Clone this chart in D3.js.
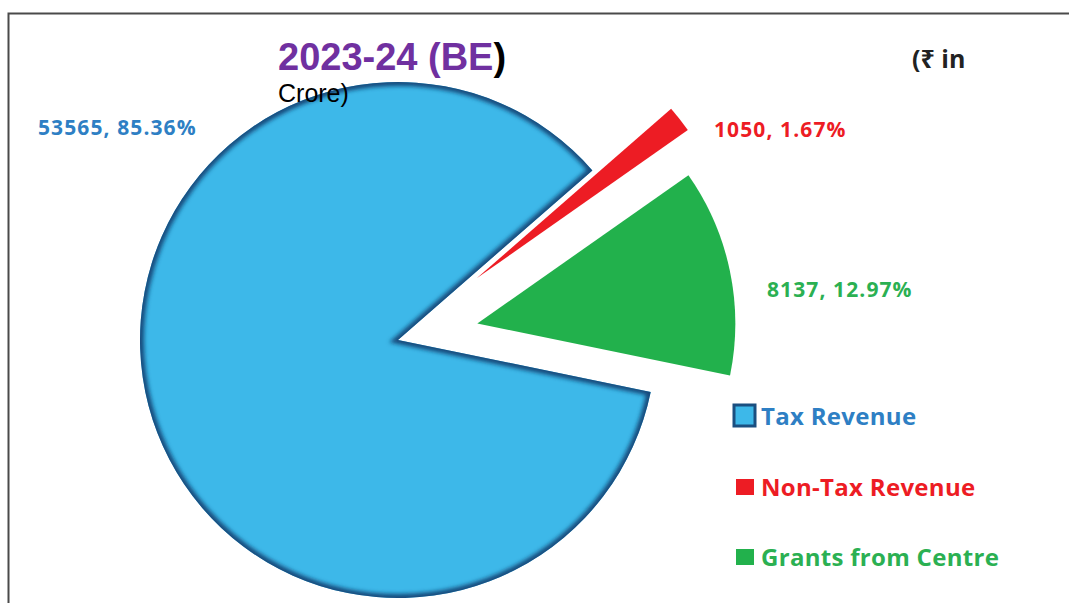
<!DOCTYPE html>
<html>
<head>
<meta charset="utf-8">
<script src="https://cdn.jsdelivr.net/npm/d3@7/dist/d3.min.js"></script>
<style>
  body { margin: 0; background: #fff; }
  text { font-family: "Open Sans", "Noto Sans", sans-serif; }
</style>
</head>
<body>
<div id="chart"></div>
<script>
// Data
var categories = ["Tax Revenue", "Non-Tax Revenue", "Grants from Centre"];
var values = [53565, 1050, 8137];
var percents = ["85.36%", "1.67%", "12.97%"];
var colors = ["#3db8e9", "#ed1c24", "#22b14c"];
var labelColors = ["#2e7fc4", "#ed1c24", "#2bb052"];

var width = 1069, height = 603;
var cx = 398, cy = 340, radius = 258;
var explode = [0, 100, 81];

var svg = d3.select("#chart").append("svg")
    .attr("width", width)
    .attr("height", height);

// frame
svg.append("path")
    .attr("d", "M8.5,603 L8.5,13.5 L1069,13.5")
    .attr("fill", "none")
    .attr("stroke", "#4a4a4a")
    .attr("stroke-width", 2);

var defs = svg.append("defs");
defs.append("filter").attr("id", "bevel")
    .attr("x", "-10%").attr("y", "-10%").attr("width", "120%").attr("height", "120%")
  .append("feGaussianBlur").attr("stdDeviation", 2.2);

var pie = d3.pie().sort(null)
    .startAngle(101.6 * Math.PI / 180)
    .endAngle((101.6 + 360) * Math.PI / 180);
var arc = d3.arc().innerRadius(0).outerRadius(radius);
var arcs = pie(values);

var g = svg.append("g").attr("transform", "translate(" + cx + "," + cy + ")");

var slices = g.selectAll("g.slice")
    .data(arcs)
    .enter()
    .append("g")
    .attr("class", "slice")
    .attr("transform", function(d, i) {
        var mid = (d.startAngle + d.endAngle) / 2;
        return "translate(" + (Math.sin(mid) * explode[i]) + "," + (-Math.cos(mid) * explode[i]) + ")";
    });

slices.append("path")
    .attr("d", arc)
    .attr("fill", function(d, i) { return colors[i]; });

// bevel shading on the big slice
defs.append("clipPath").attr("id", "taxClip")
  .append("path").attr("d", arc(arcs[0]));
slices.filter(function(d, i) { return i === 0; })
  .append("path")
    .attr("d", arc)
    .attr("fill", "none")
    .attr("stroke", "#14497a")
    .attr("stroke-width", 8)
    .attr("stroke-linejoin", "miter")
    .attr("clip-path", "url(#taxClip)")
    .attr("filter", "url(#bevel)");

// Data labels
var labelPos = [[38, 135], [714, 137], [767, 297]];
svg.selectAll("text.dlabel")
    .data(arcs)
    .enter()
    .append("text")
    .attr("class", "dlabel")
    .attr("x", function(d, i) { return labelPos[i][0]; })
    .attr("y", function(d, i) { return labelPos[i][1]; })
    .attr("fill", function(d, i) { return labelColors[i]; })
    .style("font-size", "21px")
    .style("font-weight", "bold")
    .style("letter-spacing", "1.1px")
    .text(function(d, i) { return values[i] + ", " + percents[i]; });

// Title
svg.append("text")
    .attr("x", 278).attr("y", 70)
    .style("font-family", "'Liberation Sans', Arial, sans-serif")
    .style("font-size", "38px")
    .style("font-weight", "bold")
    .attr("fill", "#7030a0")
    .text("2023-24 (BE")
  .append("tspan")
    .attr("fill", "#000")
    .text(")");

svg.append("text")
    .attr("x", 278).attr("y", 102)
    .style("font-family", "'Liberation Sans', Arial, sans-serif")
    .style("font-size", "25px")
    .attr("fill", "#000")
    .text("Crore)");

svg.append("text")
    .attr("x", 912).attr("y", 68)
    .style("font-size", "25px")
    .style("font-weight", "bold")
    .attr("fill", "#222")
    .text("(₹ in");

// Legend
var legendY = [416, 487, 557];
var legend = svg.selectAll("g.legend")
    .data(categories)
    .enter()
    .append("g")
    .attr("class", "legend")
    .attr("transform", function(d, i) { return "translate(735," + legendY[i] + ")"; });

legend.append("rect")
    .attr("x", function(d, i) { return i === 0 ? -1 : 1; })
    .attr("y", function(d, i) { return i === 0 ? -11 : -8; })
    .attr("width", function(d, i) { return i === 0 ? 21 : 18; })
    .attr("height", function(d, i) { return i === 0 ? 21 : 16; })
    .attr("fill", function(d, i) { return colors[i]; })
    .attr("stroke", function(d, i) { return i === 0 ? "#1a4f80" : "none"; })
    .attr("stroke-width", 3);

legend.append("text")
    .attr("x", 26)
    .attr("y", 9)
    .attr("fill", function(d, i) { return labelColors[i]; })
    .style("font-size", "24px")
    .style("font-weight", "bold")
    .style("letter-spacing", "0.3px")
    .text(function(d) { return d; });
</script>
</body>
</html>
